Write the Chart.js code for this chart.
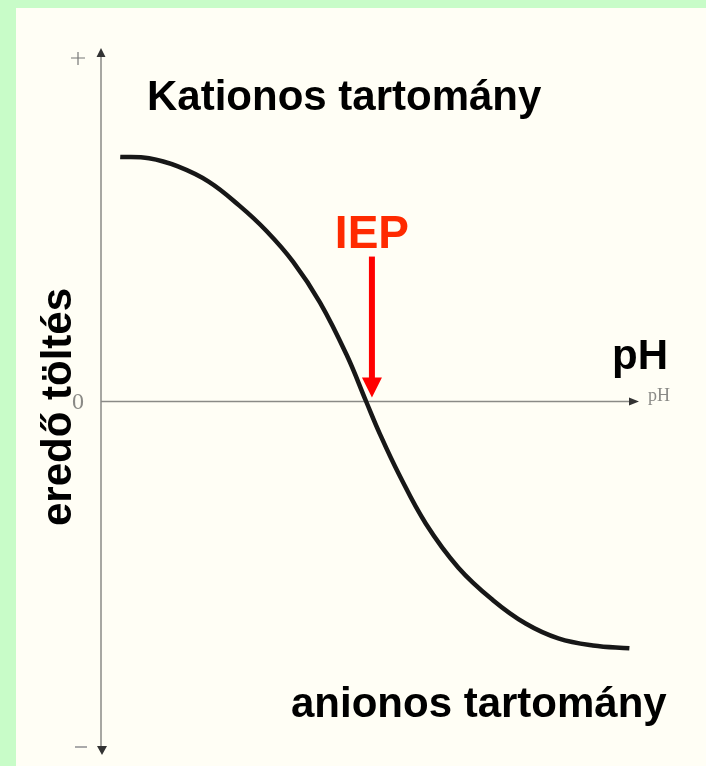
<!DOCTYPE html>
<html>
<head>
<meta charset="utf-8">
<script src="https://cdn.jsdelivr.net/npm/chart.js@4/dist/chart.umd.min.js"></script>
<style>
  html, body { margin:0; padding:0; background:#c8fcc8; }
  canvas { display:block; }
</style>
</head>
<body>
<canvas id="chart1" width="706" height="766"></canvas>
<script>
// pH values and net charge (arbitrary units, -1..1)
var phValues = [0.5, 1.25, 2.0, 2.8, 3.6, 4.3, 5.0, 5.7, 6.4, 6.9, 7.25, 7.75, 8.45, 9.3, 10.2, 11.05, 11.9, 12.8, 13.75];
var charge   = [0.692, 0.688, 0.665, 0.622, 0.554, 0.483, 0.395, 0.28, 0.13, 0.0, -0.09, -0.205, -0.345, -0.47, -0.562, -0.628, -0.67, -0.69, -0.698];
var iep = 7.05;
var iepArrowTop = 0.41;

var labels = {
  cation: "Kationos tartomány",
  anion: "anionos tartomány",
  ph: "pH",
  iep: "IEP",
  yTitle: "eredő töltés"
};

var pts = [];
for (var i = 0; i < phValues.length; i++) {
  pts.push({x: phValues[i], y: charge[i]});
}

var SANS = "'Liberation Sans', Arial, sans-serif";
var SERIF = "'Liberation Serif', 'Times New Roman', serif";

// paper, axes with arrows and the IEP arrow
var decor = {
  id: 'decor',
  beforeDraw: function(chart) {
    var c = chart.ctx;
    c.save();
    c.fillStyle = '#fffef5';
    c.fillRect(16, 8, chart.width - 16, chart.height - 8);
    c.restore();
  },
  beforeDatasetsDraw: function(chart) {
    var c = chart.ctx, xs = chart.scales.x, ys = chart.scales.y;
    var x0 = xs.getPixelForValue(0), y0 = ys.getPixelForValue(0);
    var top = ys.getPixelForValue(1), bot = ys.getPixelForValue(-1);
    var right = xs.getPixelForValue(14);
    c.save();
    c.strokeStyle = '#8a8a86';
    c.fillStyle = '#333';
    c.lineWidth = 1.5;
    c.beginPath();
    c.moveTo(x0, top + 6); c.lineTo(x0, bot - 6);
    c.moveTo(x0, y0); c.lineTo(right - 6, y0);
    c.stroke();
    // arrow heads
    c.beginPath();
    c.moveTo(x0, top); c.lineTo(x0 - 4.5, top + 9); c.lineTo(x0 + 4.5, top + 9); c.closePath();
    c.moveTo(x0 + 1, bot); c.lineTo(x0 - 4, bot - 9); c.lineTo(x0 + 6, bot - 9); c.closePath();
    c.moveTo(right, y0); c.lineTo(right - 10, y0 - 4); c.lineTo(right - 10, y0 + 4); c.closePath();
    c.fill();

    // small print labels of the original figure
    c.fillStyle = '#8a8a86';
    c.font = '18px ' + SERIF;
    c.textBaseline = 'middle';
    c.textAlign = 'left';
    c.fillText('pH', right + 9, y0 - 5);
    c.font = '24px ' + SERIF;
    c.textAlign = 'center';
    c.fillText('0', x0 - 23, y0 + 1);
    c.strokeStyle = '#777';
    c.lineWidth = 1.2;
    c.beginPath();
    c.moveTo(x0 - 30, top + 10); c.lineTo(x0 - 16, top + 10);
    c.moveTo(x0 - 23, top + 4); c.lineTo(x0 - 23, top + 17);
    c.stroke();
    c.strokeStyle = '#aaa';
    c.lineWidth = 2;
    c.beginPath();
    c.moveTo(x0 - 26, bot - 8); c.lineTo(x0 - 14, bot - 8);
    c.stroke();

    // IEP arrow
    var ax = xs.getPixelForValue(iep);
    var aTop = ys.getPixelForValue(iepArrowTop);
    c.strokeStyle = '#ff0000';
    c.fillStyle = '#ff0000';
    c.lineWidth = 6;
    c.beginPath();
    c.moveTo(ax, aTop); c.lineTo(ax, y0 - 18);
    c.stroke();
    c.beginPath();
    c.moveTo(ax, y0 - 4); c.lineTo(ax - 10, y0 - 24); c.lineTo(ax + 10, y0 - 24); c.closePath();
    c.fill();
    c.restore();
  },
  afterDraw: function(chart) {
    var c = chart.ctx, xs = chart.scales.x;
    c.save();
    c.fillStyle = '#000';
    c.font = 'bold 42px ' + SANS;
    c.textBaseline = 'alphabetic';
    c.textAlign = 'left';
    c.fillText(labels.cation, 147, 110);
    c.fillText(labels.anion, 291, 717);
    c.fillText(labels.ph, 612, 369);
    c.save();
    c.translate(71, 407);
    c.rotate(-Math.PI / 2);
    c.textAlign = 'center';
    c.fillText(labels.yTitle, 0, 0);
    c.restore();
    c.fillStyle = '#ff2a00';
    c.font = 'bold 46px ' + SANS;
    c.textAlign = 'center';
    c.fillText(labels.iep, xs.getPixelForValue(iep), 248);
    c.restore();
  }
};

var ctx = document.getElementById("chart1").getContext("2d");
var myChart = new Chart(ctx, {
  type: 'line',
  data: {
    datasets: [{
      label: 'eredő töltés',
      data: pts,
      borderColor: '#171717',
      borderWidth: 4.5,
      pointRadius: 0,
      fill: false,
      tension: 0.4
    }]
  },
  options: {
    responsive: false,
    animation: false,
    devicePixelRatio: 1,
    layout: { padding: { left: 101, right: 67, top: 48, bottom: 11 } },
    plugins: { legend: { display: false }, tooltip: { enabled: false } },
    scales: {
      x: { type: 'linear', min: 0, max: 14, display: false },
      y: { type: 'linear', min: -1, max: 1, display: false }
    }
  },
  plugins: [decor]
});
</script>
</body>
</html>
